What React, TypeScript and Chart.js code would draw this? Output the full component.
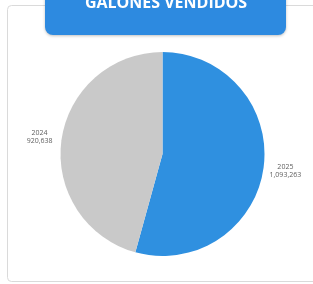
import React, { useEffect, useRef } from "react";
import { Chart, registerables } from "chart.js";

Chart.register(...registerables);

const categories = ["2025", "2024"];
const values = [1093263, 920638];
const valueLabels = ["1,093,263", "920,638"];
const titleText = "GALONES VENDIDOS";
const colors = ["#2f90e0", "#c9c9c9"];

const framePlugin = {
  id: "frame",
  beforeDraw(chart: any) {
    const ctx = chart.ctx;
    ctx.save();
    ctx.fillStyle = "#ffffff";
    ctx.fillRect(0, 0, chart.width, chart.height);
    ctx.strokeStyle = "#dadada";
    ctx.lineWidth = 1;
    ctx.beginPath();
    ctx.roundRect(7.5, 5.5, 312, 276, 4);
    ctx.stroke();
    ctx.restore();
  },
  afterDraw(chart: any) {
    const ctx = chart.ctx;
    ctx.save();
    ctx.shadowColor = "rgba(0,0,0,0.25)";
    ctx.shadowBlur = 3;
    ctx.shadowOffsetY = 1;
    ctx.fillStyle = "#2d8ae0";
    ctx.beginPath();
    ctx.roundRect(45, -12, 241, 47, 8);
    ctx.fill();
    ctx.shadowColor = "transparent";
    ctx.fillStyle = "#ffffff";
    ctx.font = "bold 16px 'Open Sans', sans-serif";
    ctx.textAlign = "center";
    ctx.textBaseline = "alphabetic";
    ctx.fillText(titleText, 166, 8);
    ctx.restore();
  },
};

const labelPlugin = {
  id: "sliceLabels",
  afterDatasetsDraw(chart: any) {
    const ctx = chart.ctx;
    const meta = chart.getDatasetMeta(0);
    ctx.save();
    ctx.fillStyle = "#5e5e5e";
    ctx.font = "7px 'Open Sans', sans-serif";
    ctx.textAlign = "center";
    ctx.textBaseline = "middle";
    meta.data.forEach((arc: any, i: number) => {
      const mid = (arc.startAngle + arc.endAngle) / 2;
      const r = arc.outerRadius + 22;
      const x = arc.x + Math.cos(mid) * r;
      const y = arc.y + Math.sin(mid) * r;
      ctx.fillText(categories[i], x, y - 4);
      ctx.fillText(valueLabels[i], x, y + 4);
    });
    ctx.restore();
  },
};

export default function App() {
  const ref = useRef<HTMLCanvasElement>(null);
  useEffect(() => {
    if (!ref.current) return;
    const chart = new Chart(ref.current, {
      type: "pie",
      data: {
        labels: categories,
        datasets: [
          {
            data: values,
            backgroundColor: colors,
            borderWidth: 0,
          },
        ],
      },
      options: {
        animation: false,
        responsive: false,
        layout: { padding: { top: 52, bottom: 28, left: 60, right: 48 } },
        plugins: {
          legend: { display: false },
          tooltip: { enabled: false },
          title: { display: false },
        },
      },
      plugins: [framePlugin, labelPlugin],
    });
    return () => chart.destroy();
  }, []);
  return (
    <div style={{ position: "fixed", left: 0, top: 0, width: 313, height: 284 }}>
      <canvas ref={ref} width={313} height={284} style={{ width: 313, height: 284 }} />
    </div>
  );
}
